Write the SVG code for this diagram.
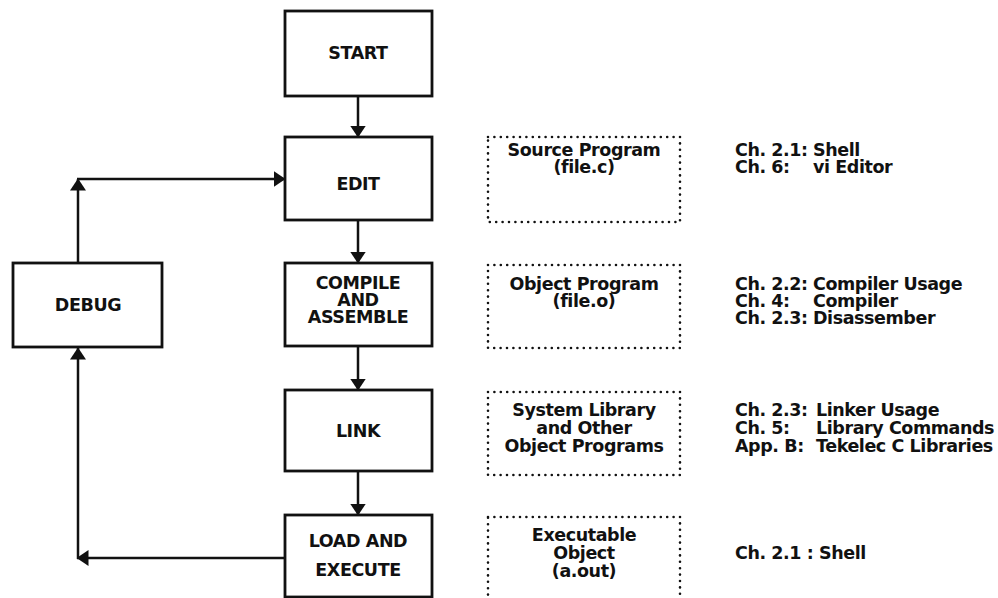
<svg xmlns="http://www.w3.org/2000/svg" width="998" height="598" viewBox="0 0 998 598">
  <style>
    .box { fill: #fff; stroke: #111; stroke-width: 2.8; }
    .dot { fill: none; stroke: #111; stroke-width: 2.6; stroke-linecap: round; stroke-dasharray: 0 6.4; }
    .wire { fill: none; stroke: #111; stroke-width: 2.5; }
    text { font-family: "DejaVu Sans", "Liberation Sans", sans-serif; font-weight: bold; font-size: 17.5px; letter-spacing: -0.42px; fill: #111; }
    .c { text-anchor: middle; }
  </style>
  <defs>
    <marker id="head" viewBox="0 0 12 16" refX="11.5" refY="8" markerWidth="12" markerHeight="16" markerUnits="userSpaceOnUse" orient="auto">
      <path d="M0,0 L12,8 L0,16 Z" fill="#111"/>
    </marker>
  </defs>

  <rect width="998" height="598" fill="#fff"/>

  <!-- connectors -->
  <g id="connectors">
    <path class="wire" d="M358,96 V137" marker-end="url(#head)"/>
    <path class="wire" d="M358,220 V263" marker-end="url(#head)"/>
    <path class="wire" d="M358,346 V390" marker-end="url(#head)"/>
    <path class="wire" d="M358,471 V515" marker-end="url(#head)"/>
    <!-- debug back to edit -->
    <path class="wire" d="M78,263 V179" marker-end="url(#head)"/>
    <path class="wire" d="M77,179 H285" marker-end="url(#head)"/>
    <!-- load and execute to debug -->
    <path class="wire" d="M285,558 H77" marker-end="url(#head)"/>
    <path class="wire" d="M78,559 V348" marker-end="url(#head)"/>
  </g>

  <!-- process steps -->
  <g id="start">
    <rect class="box" x="285" y="11" width="147" height="85"/>
    <text class="c" x="358" y="59">START</text>
  </g>
  <g id="edit">
    <rect class="box" x="285" y="137" width="147" height="83"/>
    <text class="c" x="358" y="190">EDIT</text>
  </g>
  <g id="compile">
    <rect class="box" x="285" y="263" width="147" height="83"/>
    <text class="c" x="358" y="289">COMPILE</text>
    <text class="c" x="358" y="306">AND</text>
    <text class="c" x="358" y="323">ASSEMBLE</text>
  </g>
  <g id="link">
    <rect class="box" x="285" y="390" width="147" height="81"/>
    <text class="c" x="358" y="437">LINK</text>
  </g>
  <g id="load">
    <rect class="box" x="285" y="515" width="147" height="82"/>
    <text class="c" x="358" y="547">LOAD AND</text>
    <text class="c" x="358" y="576">EXECUTE</text>
  </g>
  <g id="debug">
    <rect class="box" x="13" y="263" width="149" height="84"/>
    <text class="c" x="88" y="311">DEBUG</text>
  </g>

  <!-- products of each step -->
  <g id="source">
    <rect class="dot" x="488" y="137" width="192" height="85"/>
    <text class="c" x="584" y="156">Source Program</text>
    <text class="c" x="584" y="173">(file.c)</text>
  </g>
  <g id="object">
    <rect class="dot" x="488" y="265" width="192" height="83"/>
    <text class="c" x="584" y="290">Object Program</text>
    <text class="c" x="584" y="307">(file.o)</text>
  </g>
  <g id="library">
    <rect class="dot" x="488" y="392" width="192" height="83"/>
    <text class="c" x="584" y="416">System Library</text>
    <text class="c" x="584" y="434">and Other</text>
    <text class="c" x="584" y="452">Object Programs</text>
  </g>
  <g id="executable">
    <rect class="dot" x="488" y="517" width="192" height="90"/>
    <text class="c" x="584" y="541">Executable</text>
    <text class="c" x="584" y="559">Object</text>
    <text class="c" x="584" y="577">(a.out)</text>
  </g>

  <!-- manual references -->
  <g id="refs-edit">
    <text x="735" y="156">Ch. 2.1:<tspan x="813">Shell</tspan></text>
    <text x="735" y="173">Ch. 6:<tspan x="813">vi Editor</tspan></text>
  </g>
  <g id="refs-compile">
    <text x="735" y="290">Ch. 2.2:<tspan x="813">Compiler Usage</tspan></text>
    <text x="735" y="307">Ch. 4:<tspan x="813">Compiler</tspan></text>
    <text x="735" y="324">Ch. 2.3:<tspan x="813">Disassember</tspan></text>
  </g>
  <g id="refs-link">
    <text x="735" y="416">Ch. 2.3:<tspan x="816">Linker Usage</tspan></text>
    <text x="735" y="434">Ch. 5:<tspan x="816">Library Commands</tspan></text>
    <text x="735" y="452">App. B:<tspan x="816">Tekelec C Libraries</tspan></text>
  </g>
  <g id="refs-load">
    <text x="735" y="559">Ch. 2.1 : Shell</text>
  </g>
</svg>
